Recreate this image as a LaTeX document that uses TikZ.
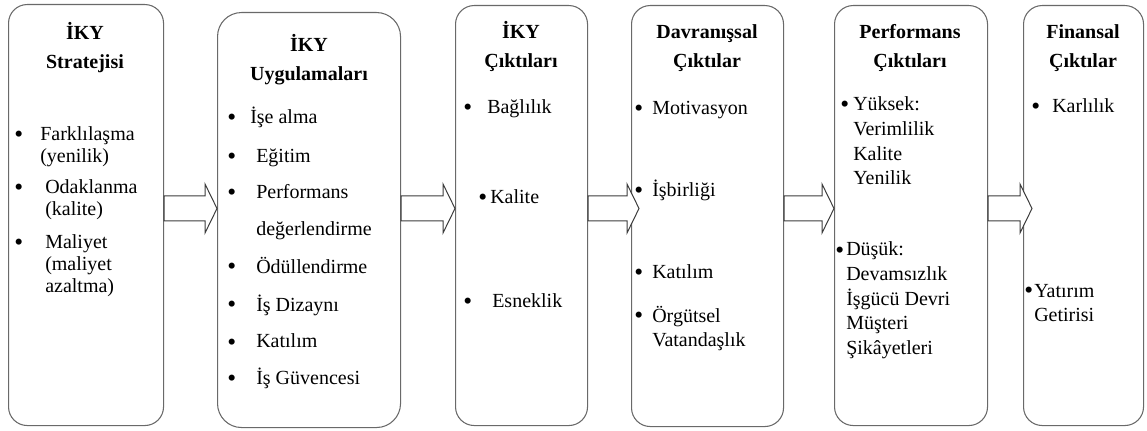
\documentclass[tikz,border=0pt]{standalone}
\usepackage{fontspec}
\setmainfont{Liberation Serif}
\usetikzlibrary{calc}
\definecolor{boxline}{RGB}{105,105,105}
\definecolor{arrowline}{RGB}{60,60,60}

\tikzset{
  stage/.style={draw=boxline,line width=0.8pt,rounded corners=14pt,
    anchor=north west,inner sep=0pt},
  heading/.style={font=\fontsize{15}{21.5}\selectfont\bfseries,
    anchor=base,inner sep=0pt},
  entry/.style={font=\fontsize{15}{#1}\selectfont,
    anchor=base west,inner sep=0pt},
  entry/.default=18.4,
  bul/.style={font=\fontsize{19}{19}\selectfont,anchor=base west,
    inner sep=0pt,yshift=-1.5pt},
  flow/.style={draw=arrowline,line width=0.75pt,fill=white,line join=miter}
}

% stacked lines, baseline on the first line
\newcommand{\leftlines}[1]{\begin{tabular}[t]{@{}l@{}}#1\end{tabular}}
\newcommand{\midlines}[1]{\begin{tabular}[t]{@{}c@{}}#1\end{tabular}}

% block arrow between two boxes: from, to, overshoot of the tip
\newcommand{\flowarrow}[3]{%
  \draw[flow] (#1.east |- sh1) -- ($(#2.west |- sh1)+(#3-12,0)$)
    -- ($(#2.west |- hd1)+(#3-12,0)$) -- ($(#2.west |- tp)+(#3,0)$)
    -- ($(#2.west |- hd2)+(#3-12,0)$) -- ($(#2.west |- sh2)+(#3-12,0)$)
    -- (#1.east |- sh2) -- cycle;}

\begin{document}
\begin{tikzpicture}[x=0.75pt,y=-0.75pt]
  \useasboundingbox (0,0) rectangle (1147,431);

  % boxes
  \node[stage,minimum width=116.25pt,minimum height=315.75pt] (strat) at (8,4) {};
  \node[stage,minimum width=137.25pt,minimum height=311.25pt,rounded corners=18pt] (pract) at (217,12) {};
  \node[stage,minimum width=99pt,minimum height=315pt] (hrout) at (455,5) {};
  \node[stage,minimum width=114pt,minimum height=315.75pt] (behav) at (631,5) {};
  \node[stage,minimum width=114.75pt,minimum height=315pt] (perf) at (834,5) {};
  \node[stage,minimum width=90pt,minimum height=315pt] (fin) at (1023,5) {};

  % arrow levels
  \coordinate (sh1) at (0,196);
  \coordinate (sh2) at (0,221);
  \coordinate (hd1) at (0,184);
  \coordinate (hd2) at (0,233);
  \coordinate (tp) at (0,208.5);

  \flowarrow{strat}{pract}{0}
  \flowarrow{pract}{hrout}{0}
  \flowarrow{hrout}{behav}{8}
  \flowarrow{behav}{perf}{0}
  \flowarrow{perf}{fin}{9}

  % IKY Stratejisi
  \node[heading] (strat-h) at (85,40) {\midlines{İKY\\Stratejisi}};
  \node[bul] (strat-b1) at (14,141) {\textbullet};
  \node[entry=16.3] (strat-t1) at (40,141) {\leftlines{Farklılaşma\\(yenilik)}};
  \node[bul] (strat-b2) at (14,194) {\textbullet};
  \node[entry=16.3] (strat-t2) at (45,194) {\leftlines{Odaklanma\\(kalite)}};
  \node[bul] (strat-b3) at (14,249) {\textbullet};
  \node[entry=16.3] (strat-t3) at (45,249) {\leftlines{Maliyet\\(maliyet\\azaltma)}};

  % IKY Uygulamalari
  \node[heading] (pract-h) at (309,52) {\midlines{İKY\\Uygulamaları}};
  \node[bul] (pract-b1) at (227,124) {\textbullet};
  \node[entry] (pract-t1) at (250,124) {İşe alma};
  \node[bul] (pract-b2) at (227,163) {\textbullet};
  \node[entry] (pract-t2) at (256,163) {Eğitim};
  \node[bul] (pract-b3) at (227,199) {\textbullet};
  \node[entry=27.75] (pract-t3) at (256,199) {\leftlines{Performans\\değerlendirme}};
  \node[bul] (pract-b4) at (227,273) {\textbullet};
  \node[entry] (pract-t4) at (256,273) {Ödüllendirme};
  \node[bul] (pract-b5) at (227,311) {\textbullet};
  \node[entry] (pract-t5) at (256,311) {İş Dizaynı};
  \node[bul] (pract-b6) at (227,348) {\textbullet};
  \node[entry] (pract-t6) at (256,348) {Katılım};
  \node[bul] (pract-b7) at (227,384) {\textbullet};
  \node[entry] (pract-t7) at (256,384) {İş Güvencesi};

  % IKY Ciktilari
  \node[heading] (hrout-h) at (521,39) {\midlines{İKY\\Çıktıları}};
  \node[bul] (hrout-b1) at (463,114) {\textbullet};
  \node[entry] (hrout-t1) at (487,114) {Bağlılık};
  \node[bul] (hrout-b2) at (478,204) {\textbullet};
  \node[entry] (hrout-t2) at (490,204) {Kalite};
  \node[bul] (hrout-b3) at (463,308) {\textbullet};
  \node[entry] (hrout-t3) at (492,308) {Esneklik};

  % Davranissal Ciktilar
  \node[heading] (behav-h) at (707,39) {\midlines{Davranışsal\\Çıktılar}};
  \node[bul] (behav-b1) at (634,115) {\textbullet};
  \node[entry] (behav-t1) at (652,115) {Motivasyon};
  \node[bul] (behav-b2) at (634,197) {\textbullet};
  \node[entry] (behav-t2) at (652,197) {İşbirliği};
  \node[bul] (behav-b3) at (634,279) {\textbullet};
  \node[entry] (behav-t3) at (652,279) {Katılım};
  \node[bul] (behav-b4) at (634,322) {\textbullet};
  \node[entry] (behav-t4) at (652,322) {\leftlines{Örgütsel\\Vatandaşlık}};

  % Performans Ciktilari
  \node[heading] (perf-h) at (910,39) {\midlines{Performans\\Çıktıları}};
  \node[bul] (perf-b1) at (840,111) {\textbullet};
  \node[entry] (perf-t1) at (853,111) {\leftlines{Yüksek:\\Verimlilik\\Kalite\\Yenilik}};
  \node[bul] (perf-b2) at (835,256) {\textbullet};
  \node[entry] (perf-t2) at (846,256) {\leftlines{Düşük:\\Devamsızlık\\İşgücü Devri\\Müşteri\\Şikâyetleri}};

  % Finansal Ciktilar
  \node[heading] (fin-h) at (1083,39) {\midlines{Finansal\\Çıktılar}};
  \node[bul] (fin-b1) at (1031,113) {\textbullet};
  \node[entry] (fin-t1) at (1052,113) {Karlılık};
  \node[bul] (fin-b2) at (1024,297) {\textbullet};
  \node[entry] (fin-t2) at (1034,297) {\leftlines{Yatırım\\Getirisi}};
\end{tikzpicture}
\end{document}
